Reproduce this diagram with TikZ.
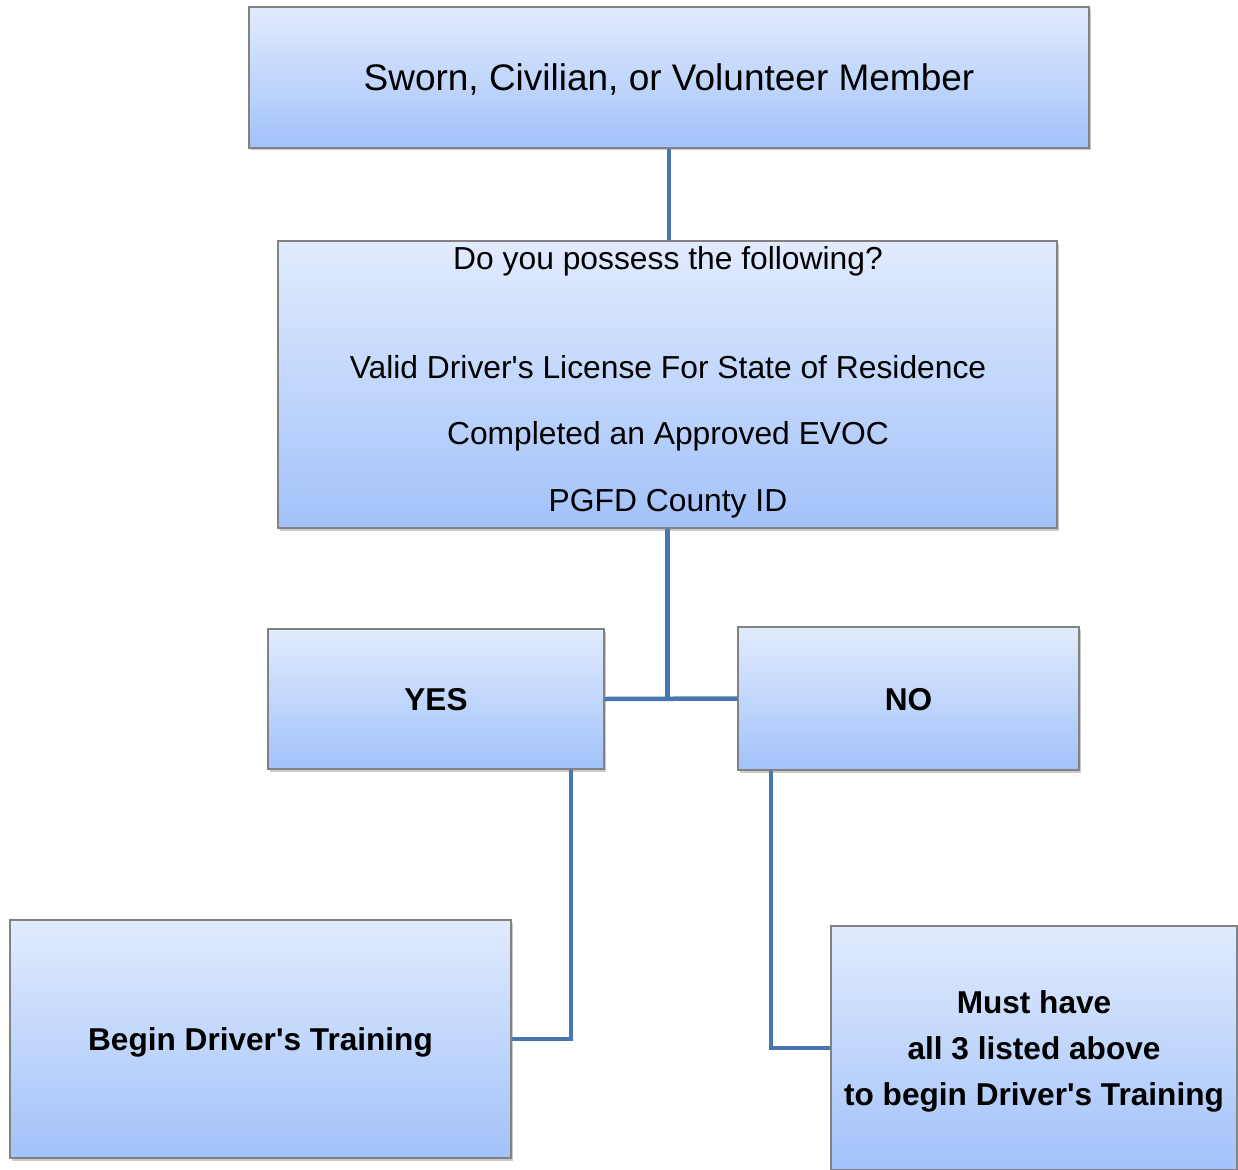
\documentclass[tikz,border=0pt]{standalone}
\usepackage{fontspec}
\setmainfont{Liberation Sans}
\usetikzlibrary{shadows}
\definecolor{boxtop}{RGB}{225,235,253}
\definecolor{boxbot}{RGB}{162,194,250}
\definecolor{boxline}{RGB}{130,130,130}
\definecolor{conn}{RGB}{74,118,176}
\newcommand{\ap}{\textquotesingle}
\newcommand{\shiftdn}[2]{\raisebox{-#1}[\height][\depth]{#2}}
\tikzset{
  flowbox/.style={draw=boxline, line width=1.3pt, top color=boxtop, bottom color=boxbot,
    inner sep=0pt, text=black, align=center,
    drop shadow={shadow xshift=2pt, shadow yshift=-2.5pt, opacity=0.35, fill=black!60}},
  connector/.style={draw=conn, line width=4.5pt},
  qtext/.style={font=\fontsize{31.8}{38}\selectfont, inner sep=0pt},
  btext/.style={font=\fontsize{31.6}{46}\selectfont\bfseries}
}
\begin{document}
\begin{tikzpicture}[x=1pt,y=-1pt]
\useasboundingbox (0,0) rectangle (1238,1169);
\node[flowbox, minimum width=840pt, minimum height=141pt, font=\fontsize{37}{44}\selectfont] (top) at (669,77.5) {\shiftdn{1.5pt}{Sworn, Civilian, or Volunteer Member}};
\node[flowbox, minimum width=779pt, minimum height=287pt] (q) at (667.5,384.5) {};
\node[qtext] (q1) at (668,261.5) {Do you possess the following?};
\node[qtext] (q2) at (668,367) {Valid Driver\ap s License For State of Residence};
\node[qtext] (q3) at (668,436) {Completed an Approved EVOC};
\node[qtext] (q4) at (668,504) {PGFD County ID};
\node[flowbox, btext, minimum width=336pt, minimum height=140pt] (yes) at (436,699) {\shiftdn{1pt}{YES}};
\node[flowbox, btext, minimum width=341pt, minimum height=143pt] (no) at (908.5,698.5) {\shiftdn{1pt}{NO}};
\node[flowbox, btext, minimum width=501pt, minimum height=238pt] (begin) at (260.5,1039) {\shiftdn{3pt}{Begin Driver\ap s Training}};
\node[flowbox, btext, minimum width=406pt, minimum height=244pt] (must) at (1034,1048) {\shiftdn{2pt}{\begin{tabular}{@{}c@{}}Must have\\all 3 listed above\\to begin Driver\ap s Training\end{tabular}}};
\draw[connector] (top.south) -- (top.south |- q.north);
\draw[connector] (q.south) -- (q.south |- yes.east);
\draw[connector] (yes.east) -- (no.west);
\draw[connector] ([xshift=135pt]yes.south) |- (begin.east);
\draw[connector] ([xshift=-137.5pt]no.south) |- (must.west);
\end{tikzpicture}
\end{document}
